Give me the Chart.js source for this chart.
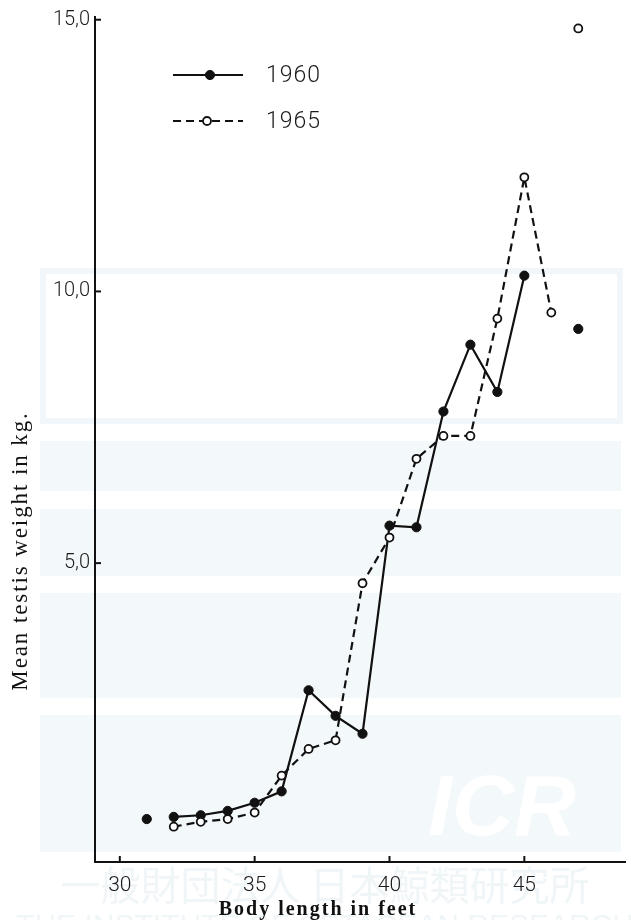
<!DOCTYPE html>
<html>
<head>
<meta charset="utf-8">
<script src="https://cdn.jsdelivr.net/npm/chart.js@4.4.1/dist/chart.umd.min.js"></script>
<style>
  html, body { margin: 0; padding: 0; background: #fff; }
  #marco { width: 631px; height: 920px; position: relative; }
</style>
</head>
<body>
<div id="marco"><canvas id="grafico"></canvas></div>
<script>
const ticksX = [30, 35, 40, 45];
const ticksY = [5, 10, 15];

const largo1960 = [31, 32, 33, 34, 35, 36, 37, 38, 39, 40, 41, 42, 43, 44, 45, 47];
const peso1960 = [0.29, 0.33, 0.36, 0.44, 0.59, 0.80, 2.66, 2.19, 1.86, 5.69, 5.66, 7.79, 9.02, 8.15, 10.29, 9.31];
const sueltos1960 = [31, 47];

const largo1965 = [32, 33, 34, 35, 36, 37, 38, 39, 40, 41, 42, 43, 44, 45, 46, 47];
const peso1965 = [0.15, 0.24, 0.29, 0.41, 1.09, 1.58, 1.74, 4.63, 5.47, 6.92, 7.34, 7.34, 9.50, 12.10, 9.61, 14.84];
const sueltos1965 = [47];

const tituloX = "Body length in feet";
const tituloY = "Mean testis weight in kg.";

const TINTA = "#111111";

function puntos(xs, ys) {
  return xs.map((x, i) => ({ x, y: ys[i] }));
}

// puntos aislados: sin linea hacia ellos
function tramo(sueltos, color) {
  return ctx =>
    sueltos.includes(ctx.p0.parsed.x) || sueltos.includes(ctx.p1.parsed.x) ? "transparent" : color;
}

// marca de agua muy tenue del escaneo
const fondo = {
  id: "fondo",
  beforeDraw(chart) {
    const ctx = chart.ctx;
    ctx.save();
    ctx.fillStyle = "#ffffff";
    ctx.fillRect(0, 0, chart.width, chart.height);
    ctx.strokeStyle = "#f1f6fa";
    ctx.lineWidth = 6;
    ctx.strokeRect(43, 271, 577, 150);
    ctx.fillStyle = "#f3f8fb";
    ctx.fillRect(40, 441, 581, 50);
    ctx.fillRect(40, 509, 581, 67);
    ctx.fillRect(40, 593, 581, 105);
    ctx.fillRect(40, 715, 581, 137);
    ctx.fillStyle = "#ffffff";
    ctx.font = "italic bold 86px 'Liberation Sans', sans-serif";
    ctx.textAlign = "left";
    ctx.textBaseline = "alphabetic";
    ctx.fillText("ICR", 428, 835);
    ctx.fillStyle = "#f0f5f8";
    ctx.textAlign = "center";
    ctx.font = "40px 'Noto Sans CJK JP', sans-serif";
    ctx.fillText("一般財団法人 日本鯨類研究所", 325, 900);
    ctx.font = "30px 'Liberation Sans', sans-serif";
    ctx.fillText("THE INSTITUTE OF CETACEAN RESEARCH", 325, 935);
    ctx.restore();
  }
};

// marcas de escala hacia dentro, titulos y leyenda
const adornos = {
  id: "adornos",
  afterDraw(chart) {
    const ctx = chart.ctx;
    const { x, y } = chart.scales;
    ctx.save();
    ctx.strokeStyle = TINTA;
    ctx.lineWidth = 2;
    y.ticks.forEach(t => {
      const py = y.getPixelForValue(t.value);
      ctx.beginPath();
      ctx.moveTo(x.left, py);
      ctx.lineTo(x.left + 6, py);
      ctx.stroke();
    });
    x.ticks.forEach(t => {
      const px = x.getPixelForValue(t.value);
      ctx.beginPath();
      ctx.moveTo(px, y.bottom);
      ctx.lineTo(px, y.bottom - 6);
      ctx.stroke();
    });

    ctx.fillStyle = TINTA;
    ctx.textAlign = "center";
    ctx.textBaseline = "alphabetic";
    ctx.font = "bold 20px 'Liberation Serif', serif";
    ctx.letterSpacing = "2px";
    ctx.fillText(tituloX, 318, 915);

    ctx.save();
    ctx.translate(21, 551);
    ctx.rotate(-Math.PI / 2);
    ctx.textBaseline = "middle";
    ctx.font = "23px 'Liberation Serif', serif";
    ctx.letterSpacing = "1.9px";
    ctx.fillText(tituloY, 0, 0);
    ctx.restore();

    const filas = [75, 121];
    chart.data.datasets.forEach((ds, i) => {
      const fy = filas[i];
      ctx.save();
      ctx.strokeStyle = ds.borderColor;
      ctx.lineWidth = ds.borderWidth;
      ctx.setLineDash(ds.borderDash || []);
      ctx.beginPath();
      ctx.moveTo(173, fy);
      ctx.lineTo(243, fy);
      ctx.stroke();
      ctx.setLineDash([]);
      ctx.beginPath();
      ctx.arc(i === 0 ? 210 : 207, fy, ds.pointRadius, 0, Math.PI * 2);
      ctx.fillStyle = ds.pointBackgroundColor;
      ctx.fill();
      ctx.lineWidth = ds.pointBorderWidth;
      ctx.strokeStyle = ds.pointBorderColor;
      ctx.stroke();
      ctx.fillStyle = "#1a1a1a";
      ctx.textAlign = "left";
      ctx.textBaseline = "middle";
      ctx.font = "300 23px Roboto, sans-serif";
      ctx.letterSpacing = "1px";
      ctx.fillText(ds.label, 266, fy + 1);
      ctx.restore();
    });
    ctx.restore();
  }
};

new Chart(document.getElementById("grafico"), {
  type: "line",
  data: {
    datasets: [
      {
        label: "1960",
        data: puntos(largo1960, peso1960),
        borderColor: TINTA,
        borderWidth: 2.2,
        pointRadius: 4.6,
        pointBackgroundColor: TINTA,
        pointBorderColor: TINTA,
        pointBorderWidth: 1,
        segment: { borderColor: tramo(sueltos1960, TINTA) },
        order: 2
      },
      {
        label: "1965",
        data: puntos(largo1965, peso1965),
        borderColor: TINTA,
        borderWidth: 2.2,
        borderDash: [8, 5],
        pointRadius: 4,
        pointBackgroundColor: "#ffffff",
        pointBorderColor: TINTA,
        pointBorderWidth: 1.8,
        segment: { borderColor: tramo(sueltos1965, TINTA) },
        order: 1
      }
    ]
  },
  options: {
    responsive: true,
    maintainAspectRatio: false,
    animation: false,
    layout: { padding: { top: 17, right: 0, bottom: 0, left: 0 } },
    plugins: {
      legend: { display: false },
      tooltip: { enabled: false }
    },
    scales: {
      x: {
        type: "linear",
        min: 29.08,
        max: 48.74,
        afterBuildTicks: scale => { scale.ticks = ticksX.map(v => ({ value: v })); },
        afterFit: scale => { scale.height = 58; },
        grid: { display: false, drawTicks: false },
        border: { display: true, color: TINTA, width: 2 },
        ticks: {
          padding: 11,
          color: "#1a1a1a",
          font: { family: "Roboto, sans-serif", size: 21, weight: "300" }
        }
      },
      y: {
        type: "linear",
        min: -0.5,
        max: 15.05,
        afterBuildTicks: scale => { scale.ticks = ticksY.map(v => ({ value: v })); },
        afterFit: scale => { scale.width = 95; },
        grid: { display: false, drawTicks: false },
        border: { display: true, color: TINTA, width: 2 },
        ticks: {
          padding: 5,
          color: "#1a1a1a",
          font: { family: "Roboto, sans-serif", size: 20, weight: "300" },
          callback: v => v.toFixed(1).replace(".", ",")
        }
      }
    }
  },
  plugins: [fondo, adornos]
});
</script>
</body>
</html>
